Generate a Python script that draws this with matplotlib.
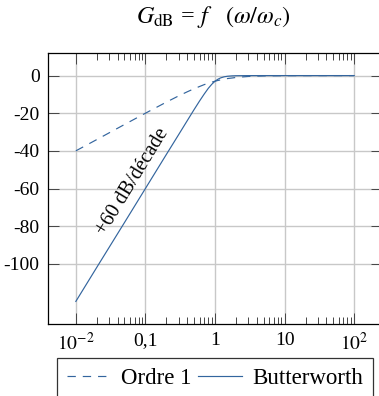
import matplotlib
matplotlib.use("Agg")
import matplotlib.pyplot as plt
from matplotlib.ticker import FixedLocator, FixedFormatter, NullFormatter

# ---- data ----
omega = [0.01, 0.02, 0.05, 0.1, 0.2, 0.3, 0.4, 0.5, 0.6, 0.7, 0.8, 0.9,
         1.0, 1.1, 1.2, 1.35, 1.5, 1.75, 2.0, 3.0, 5.0, 10.0, 20.0, 100.0]
ordre1 = [-40.0, -34.0, -26.0, -20.0, -14.1, -10.8, -8.6, -7.0, -5.8, -4.8, -4.1, -3.5,
          -3.0, -2.6, -2.3, -1.9, -1.6, -1.3, -1.0, -0.46, -0.17, -0.04, -0.01, 0.0]
butterworth = [-120.0, -101.9, -78.1, -60.0, -41.9, -31.4, -23.9, -18.1, -13.5, -9.8, -6.8, -4.6,
               -3.0, -1.95, -1.25, -0.66, -0.37, -0.15, -0.07, -0.01, 0.0, 0.0, 0.0, 0.0]
xticks = [0.01, 0.1, 1, 10, 100]
xticklabels = [r"$10^{-2}$", "0,1", "1", "10", r"$10^{2}$"]
yticks = [0, -20, -40, -60, -80, -100]
yticklabels = ["0", "-20", "-40", "-60", "-80", "-100"]
series_names = ["Ordre 1", "Butterworth"]
annotation = "+60 dB/décade"
title = r"$G_{\mathrm{dB}}$ = $f$   $(\omega/\omega_c)$"

plt.rcParams["font.family"] = ["Liberation Serif", "DejaVu Serif"]
plt.rcParams["mathtext.fontset"] = "stix"
plt.rcParams["lines.scale_dashes"] = False

W, H = 379, 396
fig = plt.figure(figsize=(W / 100, H / 100), dpi=100)
ax = fig.add_axes([48 / W, 1 - 324 / H, (382 - 48) / W, (324 - 53) / H])

color = "#33659e"
ax.plot(omega, ordre1, color=color, lw=0.85, dashes=(6.0, 5.0), label=series_names[0])
ax.plot(omega, butterworth, color=color, lw=0.85, label=series_names[1])

ax.set_xscale("log")
ax.set_xlim(10 ** -2.4, 10 ** 2.4)
ax.set_ylim(-132, 12)

ax.xaxis.set_major_locator(FixedLocator(xticks))
ax.xaxis.set_major_formatter(FixedFormatter(xticklabels))
minor = [m * 10.0 ** d for d in range(-2, 2) for m in range(2, 10)]
ax.xaxis.set_minor_locator(FixedLocator(minor))
ax.xaxis.set_minor_formatter(NullFormatter())
ax.yaxis.set_major_locator(FixedLocator(yticks))
ax.yaxis.set_major_formatter(FixedFormatter(yticklabels))

ax.grid(True, which="major", color="#c8c8c8", lw=1.0)
ax.set_axisbelow(True)
ax.tick_params(which="both", direction="in", top=True, right=True, color="#444444",
               width=0.7, labelsize=14)
ax.tick_params(which="major", length=7.6, pad=6)
ax.tick_params(which="minor", length=5.0)
for s in ax.spines.values():
    s.set_linewidth(0.9)

ax.text(0.066, -56.5, annotation, rotation=58.6, ha="center", va="center",
        rotation_mode="anchor", fontsize=14.5)

fig.text(213 / W, 1 - 17 / H, title, ha="center", va="center", fontsize=17.5)

leg = ax.legend(loc="upper center", bbox_to_anchor=(0.5, -(357.5 - 324) / (324 - 53)),
                ncol=2, frameon=True, fancybox=False, edgecolor="black", fontsize=16.5,
                handlelength=1.9, handletextpad=0.45, columnspacing=0.3, borderaxespad=0,
                borderpad=0.45)
leg.get_frame().set_linewidth(0.9)

fig.savefig("out.png", dpi=100)
